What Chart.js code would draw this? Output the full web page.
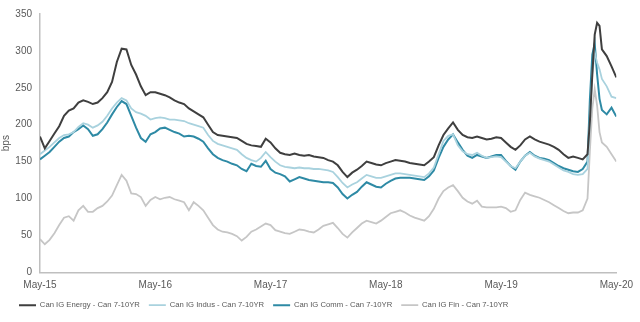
<!DOCTYPE html>
<html>
<head>
<meta charset="utf-8">
<script src="https://cdn.jsdelivr.net/npm/chart.js@4"></script>
<style>
body { margin: 0; background: #fff; }
</style>
</head>
<body>
<canvas id="spreadChart" width="640" height="322"></canvas>
<script>
// months since May-15 (half-month steps, finer around the Mar-20 spike)
const months = [
  0, 0.5, 1, 1.5, 2, 2.5, 3, 3.5, 4, 4.5,
  5, 5.5, 6, 6.5, 7, 7.5, 8, 8.5, 9, 9.5,
  10, 10.5, 11, 11.5, 12, 12.5, 13, 13.5, 14, 14.5,
  15, 15.5, 16, 16.5, 17, 17.5, 18, 18.5, 19, 19.5,
  20, 20.5, 21, 21.5, 22, 22.5, 23, 23.5, 24, 24.5,
  25, 25.5, 26, 26.5, 27, 27.5, 28, 28.5, 29, 29.5,
  30, 30.5, 31, 31.5, 32, 32.5, 33, 33.5, 34, 34.5,
  35, 35.5, 36, 36.5, 37, 37.5, 38, 38.5, 39, 39.5,
  40, 40.5, 41, 41.5, 42, 42.5, 43, 43.5, 44, 44.5,
  45, 45.5, 46, 46.5, 47, 47.5, 48, 48.5, 49, 49.5,
  50, 50.5, 51, 51.5, 52, 52.5, 53, 53.5, 54, 54.5,
  55, 55.5, 56, 56.5,
  57, 57.25, 57.5, 57.75, 58, 58.25, 58.5, 59, 59.5, 60
];
const tickLabels = ["May-15", "May-16", "May-17", "May-18", "May-19", "May-20"];

const energy = [
  184, 168, 178, 188, 198, 212, 219, 222, 230, 233,
  231, 228, 230, 236, 244, 258, 285, 303, 302, 281,
  268, 252, 240, 244, 244, 242, 240, 237, 233, 230,
  228, 222, 218, 214, 210, 200, 190, 186, 185, 184,
  183, 182, 178, 174, 172, 171, 170, 181, 176, 168,
  162, 160, 159, 161, 159, 158, 159, 157, 156, 155,
  152, 150, 145, 136, 129, 135, 139, 144, 150, 148,
  146, 145, 148, 150, 152, 151, 150, 148, 147, 146,
  145, 150, 156, 172, 186, 195, 203, 193, 186, 183,
  182, 184, 182, 180, 181, 183, 182, 176, 170, 166,
  172, 180, 184, 180, 177, 175, 173, 170, 166, 160,
  155, 157, 155, 153,
  160, 205, 268, 322, 338, 334, 302, 293, 279, 264
];
const indus = [
  160, 165, 170, 176, 182, 186, 187, 190, 197, 202,
  200, 196, 199, 204, 212, 222, 230, 236, 233, 222,
  217, 215, 212, 207, 209, 210, 209, 207, 207, 206,
  205, 202, 200, 198, 196, 186, 178, 174, 172, 170,
  168, 166, 160, 155, 152, 150, 155, 163, 156, 150,
  145, 143, 142, 141, 142, 141, 141, 140, 140, 139,
  138, 136, 129, 121, 115, 119, 122, 127, 132, 130,
  128, 128, 130, 132, 134, 134, 133, 132, 131, 130,
  129, 134, 142, 160, 178, 185, 187, 172, 164, 160,
  159, 162, 158, 155, 156, 157, 156, 150, 144, 141,
  150, 158, 162, 157, 154, 152, 150, 146, 142, 138,
  136, 133, 132, 133,
  140, 210, 268, 298, 284, 275, 262, 252, 238, 236
];
const comm = [
  153, 158, 163, 170, 177, 182, 184, 190, 194, 199,
  194, 185, 187, 194, 203, 214, 224, 232, 228, 212,
  196, 182, 177, 187, 190, 195, 196, 193, 190, 188,
  184, 185, 184, 181, 177, 168, 160, 155, 152, 150,
  147, 145, 140, 137, 147, 144, 143, 151, 140, 135,
  133, 130, 123, 126, 129, 127, 125, 124, 123, 122,
  122, 121, 115, 106, 100, 105, 109, 116, 122, 119,
  116, 115, 120, 124, 127, 128, 128, 128, 127, 126,
  125, 130, 138, 155, 170, 180, 187, 176, 166, 158,
  155, 159, 157, 155, 157, 159, 159, 151, 144, 139,
  150, 158, 163, 158, 155, 154, 152, 148, 144, 141,
  139, 137, 136, 140,
  150, 235, 295, 310, 268, 235, 220, 214, 223, 211
];
const fin = [
  45, 38, 44, 53, 64, 74, 76, 70, 84, 90,
  82, 82, 87, 90, 96, 104, 118, 132, 124, 107,
  106, 102, 90, 98, 102, 99, 101, 102, 99, 97,
  95, 84, 95, 90, 84, 74, 64, 58, 55, 54,
  52, 49, 43, 48, 55, 58, 62, 66, 64, 57,
  55, 53, 52, 55, 58, 57, 55, 54, 58, 63,
  65, 67, 60, 52, 47, 54, 60, 66, 70, 68,
  66, 70, 75, 80, 82, 84, 81, 77, 74, 72,
  70, 76, 86, 100, 110, 115, 118, 110, 101, 96,
  93, 97, 89, 88, 88, 88, 89, 87, 82, 84,
  98, 108, 105, 103, 101, 98, 95, 91, 87, 83,
  80, 81, 81, 84,
  100, 165, 222, 248, 226, 190, 176, 170, 160, 150
];

const seriesNames = [
  "Can IG Energy - Can 7-10YR",
  "Can IG Indus - Can 7-10YR",
  "Can IG Comm - Can 7-10YR",
  "Can IG Fin - Can 7-10YR"
];

const textColor = "#595959";
const axisColor = "#bfbfbf";
const fontFamily = "'Liberation Sans', Arial, sans-serif";

function toPoints(vals) {
  return vals.map((v, i) => ({ x: months[i], y: v }));
}

function lineSet(label, vals, color, width) {
  return {
    label: label,
    data: toPoints(vals),
    borderColor: color,
    backgroundColor: color,
    borderWidth: width,
    pointRadius: 0,
    tension: 0,
    fill: false
  };
}

new Chart(document.getElementById("spreadChart").getContext("2d"), {
  type: "line",
  data: {
    datasets: [
      lineSet(seriesNames[0], energy, "#3f3f3f", 2),
      lineSet(seriesNames[1], indus, "#a9d2de", 1.8),
      lineSet(seriesNames[2], comm, "#2e8aa5", 2),
      lineSet(seriesNames[3], fin, "#c6c6c6", 1.8)
    ]
  },
  options: {
    responsive: false,
    animation: false,
    layout: { padding: { left: 10, right: 23, top: 10, bottom: 3 } },
    plugins: {
      tooltip: { enabled: false },
      legend: {
        position: "bottom",
        align: "start",
        labels: {
          usePointStyle: true,
          pointStyle: "line",
          pointStyleWidth: 17,
          boxHeight: 8,
          padding: 9,
          color: textColor,
          font: { family: fontFamily, size: 7.7 }
        }
      }
    },
    scales: {
      x: {
        type: "linear",
        min: 0,
        max: 60,
        grid: { display: false, drawTicks: false },
        border: { color: axisColor, width: 1.5 },
        afterFit: (scale) => { scale.height = 20; },
        ticks: {
          stepSize: 12,
          padding: 7,
          color: textColor,
          font: { family: fontFamily, size: 10 },
          maxRotation: 0,
          callback: (v) => tickLabels[v / 12]
        }
      },
      y: {
        min: 0,
        max: 350,
        grid: { display: false, drawTicks: false },
        border: { color: axisColor, width: 1.5 },
        afterFit: (scale) => { scale.width = 30; },
        title: {
          display: true,
          text: "bps",
          color: textColor,
          font: { family: fontFamily, size: 10 },
          padding: { top: -10, bottom: 0 }
        },
        ticks: {
          stepSize: 50,
          padding: 8,
          color: textColor,
          font: { family: fontFamily, size: 10 }
        }
      }
    }
  }
});
</script>
</body>
</html>
